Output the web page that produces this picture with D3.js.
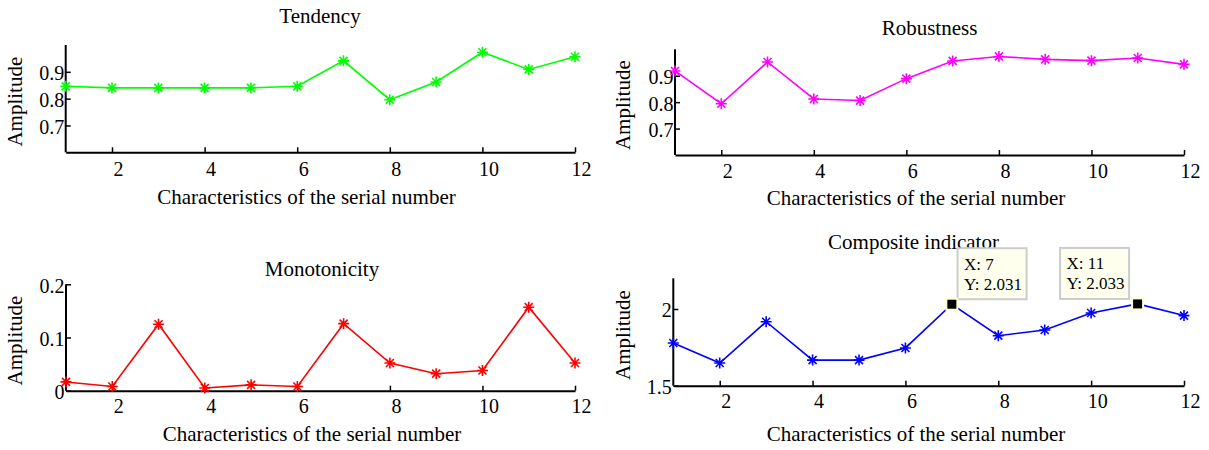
<!DOCTYPE html>
<html>
<head>
<meta charset="utf-8">
<script src="https://cdn.jsdelivr.net/npm/d3@7"></script>
<style>
  html, body { margin: 0; padding: 0; background: #ffffff; }
  svg { display: block; }
  text { font-family: "Liberation Serif", "Times New Roman", serif; fill: #000; }
</style>
</head>
<body>
<svg id="chart" width="1209" height="450"></svg>
<script>
// Characteristic serial numbers (x axis) and the four indicator series
const serial = [1, 2, 3, 4, 5, 6, 7, 8, 9, 10, 11, 12];
const tendency = [0.846, 0.840, 0.840, 0.840, 0.840, 0.846, 0.941, 0.796, 0.862, 0.973, 0.909, 0.956];
const robustness = [0.918, 0.794, 0.952, 0.812, 0.806, 0.889, 0.956, 0.973, 0.962, 0.957, 0.967, 0.943];
const monotonicity = [0.0165, 0.008, 0.125, 0.005, 0.011, 0.008, 0.126, 0.052, 0.032, 0.038, 0.157, 0.052];
const composite = [1.778, 1.648, 1.917, 1.667, 1.667, 1.746, 2.031, 1.826, 1.863, 1.974, 2.033, 1.957];

// Axis ticks
const xTicks = [2, 4, 6, 8, 10, 12];
const tendencyTicks = [0.7, 0.8, 0.9];
const robustnessTicks = [0.7, 0.8, 0.9];
const monotonicityTicks = [0, 0.1, 0.2];
const compositeTicks = [1.5, 2];

// Data cursors shown on the composite indicator
const datatipSerials = [7, 11];

const xLabel = "Characteristics of the serial number";
const yLabel = "Amplitude";

const serifFont = '"Liberation Serif", "Times New Roman", serif';

// Subplot layout
const panels = [
  { title: "Tendency", values: tendency, yTicks: tendencyTicks, yDomain: [0.6, 1.0], color: "#00ff00",
    left: 65.7, right: 575, top: 45, bottom: 152.3,
    titleX: 320, titleY: 23.3, xLabelX: 306.5, xLabelY: 204, tickY: 176, yLabelX: 22 },
  { title: "Robustness", values: robustness, yTicks: robustnessTicks, yDomain: [0.6, 1.0], color: "#ff00ff",
    left: 675, right: 1184, top: 49.3, bottom: 155,
    titleX: 929.5, titleY: 35, xLabelX: 916, xLabelY: 204.5, tickY: 178, yLabelX: 630 },
  { title: "Monotonicity", values: monotonicity, yTicks: monotonicityTicks, yDomain: [0, 0.2], color: "#ff0000",
    left: 66, right: 575, top: 284.3, bottom: 390.7,
    titleX: 322, titleY: 275.5, xLabelX: 312, xLabelY: 441, tickY: 413, yLabelX: 21.5 },
  { title: "Composite indicator", values: composite, yTicks: compositeTicks, yDomain: [1.5, 2.2], color: "#0000ff",
    left: 673.3, right: 1184, top: 278.3, bottom: 385.7,
    titleX: 913.5, titleY: 248.5, xLabelX: 916, xLabelY: 441, tickY: 408.5, yLabelX: 630,
    datatips: datatipSerials }
];

const svg = d3.select("#chart");

// Asterisk marker: a plus combined with a cross
const asterisk = "M-5.5,0H5.5M0,-5.5V5.5M-4,-4L4,4M-4,4L4,-4";

panels.forEach(p => {
  const x = d3.scaleLinear().domain([1, 12]).range([p.left, p.right]);
  const y = d3.scaleLinear().domain(p.yDomain).range([p.bottom, p.top]);
  const g = svg.append("g");

  // x axis: ticks point into the plot, labels set below
  const xa = g.append("g")
    .attr("transform", `translate(0,${p.bottom})`)
    .call(d3.axisBottom(x).tickValues(xTicks).tickSizeInner(-5).tickSizeOuter(0).tickFormat(d3.format("d")))
    .attr("font-family", serifFont).attr("font-size", 20);
  xa.select(".domain").attr("stroke", "#000").attr("stroke-width", 2);
  xa.selectAll(".tick line").attr("stroke", "#000").attr("stroke-width", 1.5);
  xa.selectAll(".tick text")
    .attr("y", p.tickY - p.bottom).attr("dy", null).attr("dx", 6);

  // y axis
  const ya = g.append("g")
    .attr("transform", `translate(${p.left},0)`)
    .call(d3.axisLeft(y).tickValues(p.yTicks).tickSizeInner(-5).tickSizeOuter(0).tickFormat(d3.format("")))
    .attr("font-family", serifFont).attr("font-size", 20);
  ya.select(".domain").attr("stroke", "#000").attr("stroke-width", 2)
    .attr("d", `M0,${p.top}V${p.bottom}`);
  ya.selectAll(".tick line").attr("stroke", "#000").attr("stroke-width", 1.5);
  ya.selectAll(".tick text")
    .attr("x", -1.5).attr("dy", "0.4em");
  g.selectAll(".domain").attr("fill", "none");

  // Series line and markers
  const line = d3.line().x((d, i) => x(serial[i])).y(d => y(d));
  g.append("path").datum(p.values)
    .attr("d", line).attr("fill", "none")
    .attr("stroke", p.color).attr("stroke-width", 1.6);
  g.selectAll(".marker").data(p.values).enter().append("path")
    .attr("class", "marker")
    .attr("d", asterisk)
    .attr("transform", (d, i) => `translate(${x(serial[i])},${y(d)})`)
    .attr("fill", "none").attr("stroke", p.color).attr("stroke-width", 1.6);

  // Title and axis labels
  g.append("text").attr("x", p.titleX).attr("y", p.titleY)
    .attr("text-anchor", "middle").attr("font-size", 21).text(p.title);
  g.append("text").attr("x", p.xLabelX).attr("y", p.xLabelY)
    .attr("text-anchor", "middle").attr("font-size", 21).text(xLabel);
  g.append("text")
    .attr("transform", `translate(${p.yLabelX},${(p.top + p.bottom) / 2 + 3}) rotate(-90)`)
    .attr("text-anchor", "middle").attr("font-size", 21).text(yLabel);

  // Data cursors
  if (p.datatips) {
    const fmt = d3.format(".3f");
    p.datatips.forEach(s => {
      const v = p.values[serial.indexOf(s)];
      const mx = x(s), my = y(v);
      // box sits to the right of the point unless it would run past the axes
      const bx = (mx + 80 > p.right) ? mx - 77.5 : mx + 5.7;
      const by = my - 56;
      const tip = g.append("g");
      tip.append("rect").attr("x", bx).attr("y", by).attr("width", 69).attr("height", 51)
        .attr("fill", "#ffffee").attr("stroke", "#cccccc").attr("stroke-width", 2);
      tip.append("text").attr("x", bx + 6.5).attr("y", by + 21.5)
        .attr("font-size", 17).text(`X: ${s}`);
      tip.append("text").attr("x", bx + 6.5).attr("y", by + 41.5)
        .attr("font-size", 17).text(`Y: ${fmt(v)}`);
      tip.append("rect").attr("x", mx - 5.5).attr("y", my - 5.5).attr("width", 11).attr("height", 11)
        .attr("fill", "#000").attr("stroke", "#ffffcc").attr("stroke-width", 2);
    });
  }
});
</script>
</body>
</html>
